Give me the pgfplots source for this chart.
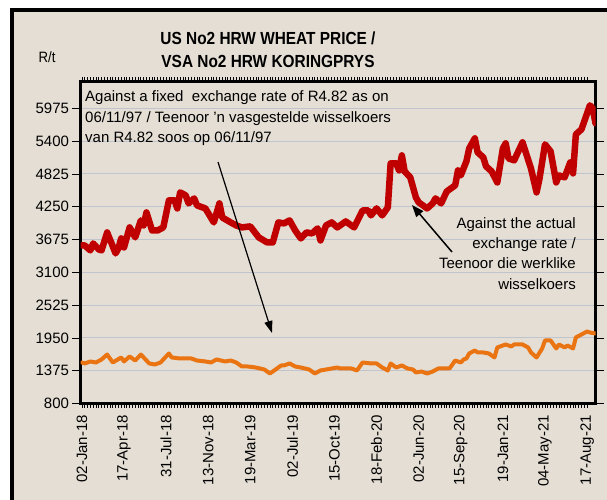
\documentclass[border=0pt]{standalone}
\usepackage{fontspec}
\setmainfont{Liberation Sans}
\newfontfamily\nfont{Liberation Sans}[FakeStretch=0.88]
\usepackage{pgfplots}
\pgfplotsset{compat=1.18}
\usetikzlibrary{arrows.meta}
\definecolor{bg}{RGB}{228,222,212}
\definecolor{wred}{RGB}{192,0,0}
\definecolor{worange}{RGB}{234,116,18}
\definecolor{gridc}{RGB}{192,196,205}
\pgfplotstableread{
w v
0 3571
1 3571
3 3484
4 3606
6 3501
7 3484
9 3799
12 3431
13 3519
14 3694
15 3536
17 3887
19 3712
21 4010
22 3922
23 4150
25 3834
27 3834
29 3887
31 4361
33 4361
34 4220
35 4501
37 4448
38 4308
40 4396
41 4273
44 4220
47 3975
49 4308
50 4062
53 3975
55 3922
57 3887
60 3905
63 3712
66 3624
68 3624
70 3975
72 3957
74 4010
76 3834
78 3694
80 3799
82 3782
84 3870
85 3659
87 3922
89 3975
91 3887
94 3992
97 3887
100 4185
102 4185
103 4098
105 4220
107 4098
109 4238
110 5010
112 5010
113 4887
114 5150
115 4869
117 4764
119 4413
120 4326
123 4220
125 4308
126 4396
128 4308
130 4518
133 4624
134 4887
135 4799
137 5045
138 5273
140 5448
141 5203
143 5115
144 4957
146 4869
148 4676
150 5273
151 5360
152 5097
154 5062
157 5378
160 4922
162 4501
163 4729
165 5343
167 5220
169 4676
170 4799
172 4764
174 5027
175 4834
176 5518
178 5606
181 6027
182 5974
183 5711
}\redtable
\pgfplotstableread{
w v
0 1519
1 1502
3 1537
5 1519
7 1572
9 1659
11 1519
14 1607
15 1537
17 1624
19 1554
21 1659
22 1607
24 1502
26 1484
28 1519
31 1677
32 1607
35 1589
39 1589
41 1554
44 1537
46 1519
48 1572
51 1537
53 1554
55 1519
57 1449
59 1449
62 1431
65 1396
67 1326
69 1396
71 1467
72 1467
74 1502
76 1449
78 1431
81 1396
83 1326
85 1379
87 1396
89 1414
91 1431
92 1414
96 1414
98 1379
100 1519
103 1502
105 1502
107 1431
109 1379
110 1502
112 1431
114 1467
116 1414
118 1396
119 1344
121 1361
123 1326
125 1361
127 1414
129 1414
131 1414
133 1554
135 1519
136 1572
137 1589
138 1677
140 1730
141 1695
143 1695
145 1677
147 1607
148 1782
151 1835
153 1800
154 1835
157 1835
159 1782
160 1695
162 1607
164 1765
165 1905
167 1905
169 1765
170 1835
172 1782
173 1817
175 1765
176 1958
178 2010
180 2063
181 2045
183 2028
}\orangetable
\begin{document}
\begin{tikzpicture}[x=1pt,y=1pt]
\path[use as bounding box] (0,0) rectangle (607,499);
\fill[white] (0,0) rectangle (607,499);
\fill[bg] (10,-2) rectangle (609,491);
\draw[line width=4pt] (12,-5) -- (12,489) -- (612,489);
\begin{axis}[
  at={(80.5pt,95.5pt)}, anchor=south west,
  scale only axis, width=515pt, height=322pt,
  xmin=-0.5, xmax=183, ymin=800, ymax=6445,
  axis line style={line width=3.5pt},
  xtick={0,15,...,180},
  xticklabels={02-Jan-18,17-Apr-18,31-Jul-18,13-Nov-18,19-Mar-19,02-Jul-19,15-Oct-19,18-Feb-20,02-Jun-20,15-Sep-20,19-Jan-21,04-May-21,17-Aug-21},
  minor x tick num=14,
  ytick={800,1375,1950,2525,3100,3675,4250,4825,5400,5975},
  /pgf/number format/assume math mode=true,
  /pgf/number format/1000 sep={},
  tick align=outside,
  major tick length=8pt, minor tick length=4pt,
  xtick style={/pgfplots/major tick length=4pt, line width=0.8pt, black},
  ytick style={line width=0.8pt, black},
  x tick label style={rotate=90, anchor=east, font=\fontsize{15}{15}\selectfont},
  y tick label style={font=\fontsize{15}{15}\selectfont},
  ymajorgrids, major grid style={gridc, line width=0.9pt},
]
\addplot[worange, line width=4pt, line join=round, line cap=round] table[x=w,y=v] {\orangetable};
\addplot[wred, line width=6.5pt, line join=round, line cap=round] table[x=w,y=v] {\redtable};
\end{axis}
\node[font=\nfont\fontsize{15}{15}\selectfont] at (47,442) {R/t};
\node[font=\nfont\bfseries\fontsize{17.5}{17.5}\selectfont] at (268,461) {US No2 HRW WHEAT PRICE /};
\node[font=\nfont\bfseries\fontsize{17.5}{17.5}\selectfont] at (268,438) {VSA No2 HRW KORINGPRYS};
\begin{scope}[every node/.style={inner sep=0pt, font=\fontsize{15}{15}\selectfont}]
\node[anchor=base west] at (85,397) {Against a fixed\ \ exchange rate of R4.82 as on};
\node[anchor=base west] at (85,376.5) {06/11/97 / Teenoor \symbol{39}n vasgestelde wisselkoers};
\node[anchor=base west] at (85,356) {van R4.82 soos op 06/11/97};
\node[anchor=base east] at (576,271) {Against the actual};
\node[anchor=base east] at (576,251) {exchange rate /};
\node[anchor=base east] at (576,231) {Teenoor die werklike};
\node[anchor=base east] at (576,210) {wisselkoers};
\end{scope}
\draw[line width=1.2pt, -{Triangle[length=12pt,width=8pt]}] (218,337) -- (272,166);
\draw[line width=1.5pt, -{Triangle[length=12pt,width=9pt]}] (452,247) -- (412,294);
\end{tikzpicture}
\end{document}
